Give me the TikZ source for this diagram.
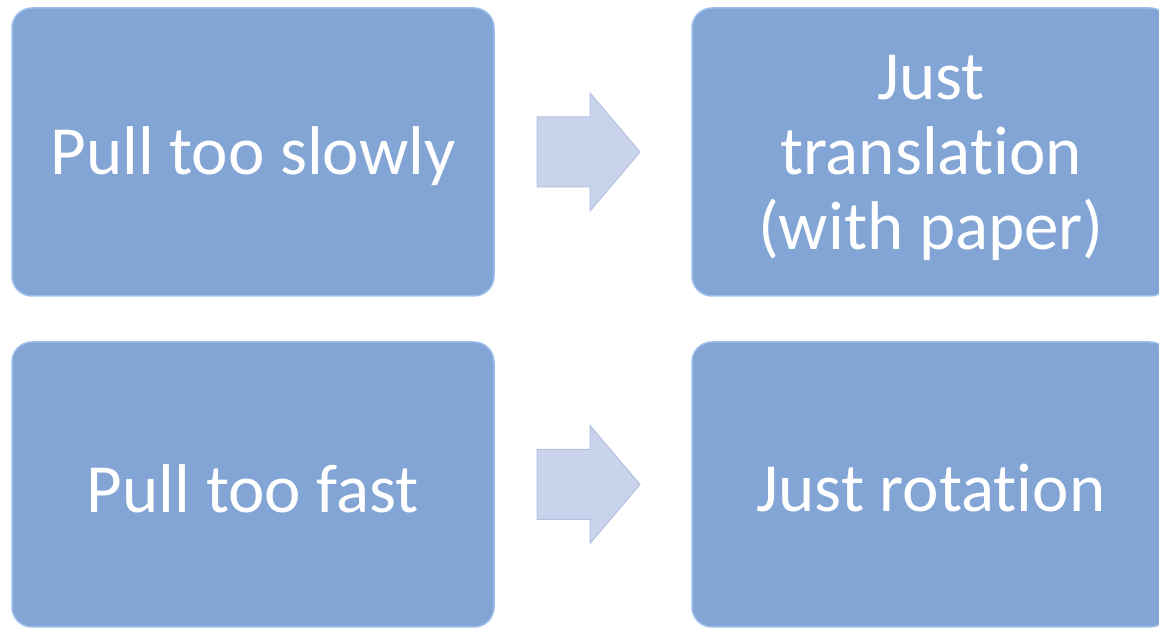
\documentclass[tikz,border=0pt]{standalone}
\usepackage{fontspec}
\setmainfont{Carlito}[Ligatures={NoCommon}]
\definecolor{boxblue}{HTML}{82A5D5}
\definecolor{boxedge}{HTML}{9DBDEB}
\definecolor{arrowfill}{HTML}{C9D3EC}
\definecolor{arrowedge}{HTML}{B3C0DF}
\begin{document}
\begin{tikzpicture}[x=1pt,y=1pt,
  bluebox/.style={draw=boxedge,line width=1.5pt,fill=boxblue,rounded corners=20pt,
    minimum width=482pt,minimum height=288pt,inner sep=0pt},
  boxtext/.style={inner sep=0pt,align=center,text=white,font=\fontsize{69}{75}\selectfont},
  fatarrow/.style={fill=arrowfill,draw=arrowedge,line width=1pt}]
\useasboundingbox (0,0) rectangle (1159,628);
\node[bluebox] (a) at (253,476) {};
\node[bluebox,minimum width=478pt] (b) at (931,476) {};
\node[bluebox,minimum height=285pt] (c) at (253,143.5) {};
\node[bluebox,minimum width=478pt,minimum height=285pt] (d) at (931,143.5) {};
\node[boxtext] (ta) at ([yshift=-4pt]a.center) {Pull too slowly};
\node[boxtext] (tb) at ([yshift=-6pt]b.center) {Just\\translation\\(with paper)};
\node[boxtext] (tc) at ([yshift=-4pt]c.center) {Pull too fast};
\node[boxtext] (td) at ([yshift=-4pt]d.center) {Just rotation};
\draw[fatarrow] (537,511) -- (590,511) -- (590,535) -- (640,476) -- (590,417) -- (590,441) -- (537,441) -- cycle;
\draw[fatarrow] (537,178.5) -- (590,178.5) -- (590,202.5) -- (640,143.5) -- (590,84.5) -- (590,108.5) -- (537,108.5) -- cycle;
\end{tikzpicture}
\end{document}
